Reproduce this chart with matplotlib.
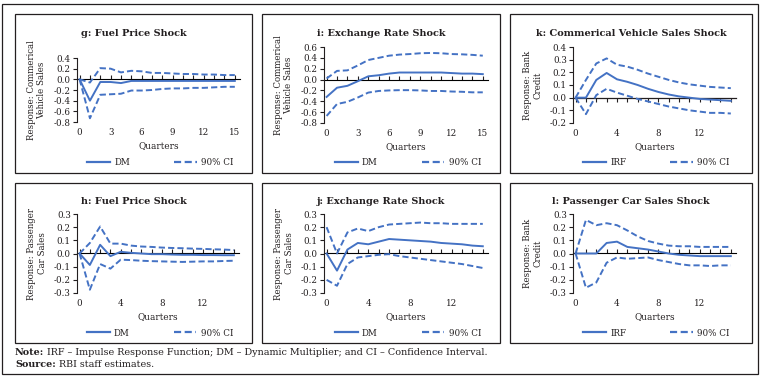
import matplotlib
matplotlib.use("Agg")
import matplotlib.pyplot as plt
from matplotlib.lines import Line2D
from matplotlib.patches import Rectangle

plt.rcParams["font.family"] = ["DejaVu Serif"]
plt.rcParams["axes.unicode_minus"] = False

W, H = 763, 379
BLUE = "#4472C4"
INK = "#231F20"

quarters = list(range(16))

# g: fuel price shock -> commercial vehicle sales
g_mid = [0, -0.40, -0.05, -0.05, -0.07, -0.03, -0.03, -0.03, -0.03, -0.03, -0.03, -0.03, -0.03, -0.03, -0.03, -0.03]
g_up = [0, -0.06, 0.21, 0.20, 0.13, 0.16, 0.15, 0.12, 0.12, 0.11, 0.10, 0.10, 0.09, 0.09, 0.08, 0.08]
g_lo = [0, -0.73, -0.29, -0.28, -0.27, -0.21, -0.21, -0.20, -0.18, -0.17, -0.17, -0.16, -0.16, -0.15, -0.14, -0.14]

# i: exchange rate shock -> commercial vehicle sales
i_mid = [-0.32, -0.15, -0.115, -0.03, 0.06, 0.08, 0.11, 0.13, 0.13, 0.13, 0.13, 0.13, 0.12, 0.11, 0.11, 0.10]
i_up = [0.02, 0.16, 0.17, 0.26, 0.36, 0.40, 0.44, 0.46, 0.47, 0.485, 0.49, 0.485, 0.47, 0.465, 0.455, 0.44]
i_lo = [-0.67, -0.45, -0.41, -0.33, -0.24, -0.21, -0.20, -0.195, -0.195, -0.20, -0.21, -0.21, -0.22, -0.225, -0.235, -0.235]

# k: commercial vehicle sales shock -> bank credit
k_mid = [0, 0.0, 0.14, 0.195, 0.145, 0.125, 0.10, 0.07, 0.045, 0.025, 0.01, 0.0, -0.01, -0.015, -0.02, -0.025]
k_up = [0, 0.14, 0.27, 0.31, 0.26, 0.245, 0.22, 0.19, 0.165, 0.14, 0.12, 0.105, 0.095, 0.085, 0.08, 0.075]
k_lo = [0, -0.13, 0.02, 0.07, 0.04, 0.015, -0.01, -0.03, -0.05, -0.07, -0.085, -0.10, -0.11, -0.12, -0.12, -0.125]

# h: fuel price shock -> passenger car sales
h_mid = [0, -0.087, 0.066, -0.02, 0.013, 0.005, 0.0, -0.005, -0.005, -0.008, -0.01, -0.01, -0.012, -0.012, -0.013, -0.013]
h_up = [0, 0.08, 0.205, 0.075, 0.075, 0.06, 0.053, 0.05, 0.045, 0.042, 0.04, 0.037, 0.035, 0.032, 0.03, 0.026]
h_lo = [0, -0.275, -0.08, -0.115, -0.047, -0.05, -0.055, -0.058, -0.06, -0.062, -0.064, -0.062, -0.06, -0.06, -0.057, -0.055]

# j: exchange rate shock -> passenger car sales
j_mid = [0, -0.13, 0.03, 0.08, 0.07, 0.09, 0.11, 0.105, 0.10, 0.095, 0.09, 0.08, 0.075, 0.07, 0.06, 0.055]
j_up = [0.20, 0.0, 0.16, 0.19, 0.17, 0.20, 0.22, 0.225, 0.23, 0.235, 0.23, 0.23, 0.225, 0.225, 0.225, 0.225]
j_lo = [-0.20, -0.245, -0.08, -0.03, -0.02, -0.01, -0.005, -0.02, -0.03, -0.04, -0.05, -0.06, -0.07, -0.08, -0.095, -0.11]

# l: passenger car sales shock -> bank credit
l_mid = [0, 0.0, 0.0, 0.08, 0.09, 0.05, 0.04, 0.03, 0.015, 0.0, -0.01, -0.015, -0.02, -0.02, -0.02, -0.02]
l_up = [0, 0.255, 0.215, 0.23, 0.215, 0.175, 0.13, 0.095, 0.075, 0.06, 0.055, 0.055, 0.05, 0.05, 0.05, 0.05]
l_lo = [0, -0.26, -0.22, -0.07, -0.03, -0.04, -0.035, -0.03, -0.05, -0.065, -0.08, -0.09, -0.09, -0.095, -0.09, -0.09]

panels = [
    # title, ylabel, mid, up, lo, label, ylim, ystep, xstep, panel box, axes box
    ("g: Fuel Price Shock", "Response: Commerical\nVehicle Sales", g_mid, g_up, g_lo, "DM",
     (-0.8, 0.4), 0.2, 3, (15, 14, 252, 173), (77, 58, 240, 122)),
    ("i: Exchange Rate Shock", "Response: Commerical\nVehicle Sales", i_mid, i_up, i_lo, "DM",
     (-0.8, 0.6), 0.2, 3, (262, 14, 500, 173), (324, 47, 488, 123)),
    ("k: Commerical Vehicle Sales Shock", "Response: Bank\nCredit", k_mid, k_up, k_lo, "IRF",
     (-0.2, 0.4), 0.1, 4, (510, 14, 752, 173), (573, 47, 736, 123)),
    ("h: Fuel Price Shock", "Response: Passenger\nCar Sales", h_mid, h_up, h_lo, "DM",
     (-0.3, 0.3), 0.1, 4, (15, 183, 252, 343), (77, 214, 239, 293)),
    ("j: Exchange Rate Shock", "Response: Passenger\nCar Sales", j_mid, j_up, j_lo, "DM",
     (-0.3, 0.3), 0.1, 4, (262, 183, 500, 343), (324, 214, 488, 293)),
    ("l: Passenger Car Sales Shock", "Response: Bank\nCredit", l_mid, l_up, l_lo, "IRF",
     (-0.3, 0.3), 0.1, 4, (510, 183, 752, 343), (573, 214, 736, 293)),
]


def fx(x):
    return x / W


def fy(y):
    return 1 - y / H


fig = plt.figure(figsize=(W / 100, H / 100), dpi=100)

# outer frame
fig.add_artist(Rectangle((fx(2), fy(374)), fx(756), 370 / H, transform=fig.transFigure,
                         fill=False, ec=INK, lw=0.9))

dash = (0, (3.2, 1.6))
for title, ylab, mid, up, lo, lab, ylim, ystep, xstep, box, abox in panels:
    bx0, by0, bx1, by1 = box
    fig.add_artist(Rectangle((fx(bx0), fy(by1)), fx(bx1 - bx0), (by1 - by0) / H,
                             transform=fig.transFigure, fill=False, ec=INK, lw=0.9))
    ax0, ay0, ax1, ay1 = abox
    ax = fig.add_axes([fx(ax0), fy(ay1), fx(ax1 - ax0), (ay1 - ay0) / H])
    ax.plot(quarters, mid, color=BLUE, lw=1.4)
    ax.plot(quarters, up, color=BLUE, lw=1.4, linestyle=dash)
    ax.plot(quarters, lo, color=BLUE, lw=1.4, linestyle=dash)
    ax.set_xlim(-0.25, 15.5)
    ax.set_ylim(*ylim)
    n = int(round((ylim[1] - ylim[0]) / ystep))
    yt = [round(ylim[0] + i * ystep, 2) for i in range(n + 1)]
    ax.set_yticks(yt)
    ax.set_yticklabels([f"{v:.1f}" for v in yt])
    ax.set_xticks(quarters[::xstep])
    ax.tick_params(axis="x", length=0, pad=4, labelsize=6.3, colors=INK)
    ax.tick_params(axis="y", length=3, width=0.8, pad=1.5, labelsize=6.3, colors=INK)
    for s in ["top", "right", "bottom"]:
        ax.spines[s].set_visible(False)
    ax.spines["left"].set_color(INK)
    ax.patch.set_alpha(0)
    # zero axis with ticks
    zf = (0 - ylim[0]) / (ylim[1] - ylim[0])
    sec = ax.secondary_xaxis(zf)
    sec.set_xticks(quarters)
    sec.set_xticklabels([])
    sec.tick_params(length=3, width=0.8, direction="out", colors=INK)
    sec.spines["bottom"].set_color(INK)
    sec.spines["bottom"].set_linewidth(0.9)

    cx = (bx0 + bx1) / 2
    fig.text(fx(cx), fy(by0 + 19), title, ha="center", va="center",
             fontsize=7.0, fontweight="bold", color=INK)
    acx = (ax0 + ax1) / 2
    fig.text(fx(acx), fy(ay1 + 24), "Quarters", ha="center", va="center",
             fontsize=6.4, color=INK)
    fig.text(fx(ax0 - 40), fy((ay0 + ay1) / 2), ylab, ha="center", va="center",
             rotation=90, fontsize=6.2, color=INK, linespacing=1.15, multialignment="center")
    handles = [Line2D([], [], color=BLUE, lw=1.6),
               Line2D([], [], color=BLUE, lw=1.6, linestyle=dash)]
    fig.legend(handles, [lab, "90% CI"], loc="center", bbox_to_anchor=(fx(acx + 2), fy(by1 - 10)),
               ncol=2, frameon=False, fontsize=6.3, handlelength=2.6, handletextpad=0.5,
               columnspacing=5.0, labelcolor=INK)

t1 = fig.text(fx(15), fy(355), "Note:", fontsize=6.9, fontweight="bold", color=INK, va="baseline")
t2 = fig.text(fx(15), fy(367), "Source:", fontsize=6.9, fontweight="bold", color=INK, va="baseline")

fig.canvas.draw()
r = fig.canvas.get_renderer()
w1 = t1.get_window_extent(r).width
w2 = t2.get_window_extent(r).width
fig.text(fx(15 + w1), fy(355),
         " IRF \u2013 Impulse Response Function; DM \u2013 Dynamic Multiplier; and CI \u2013 Confidence Interval.",
         fontsize=6.9, color=INK, va="baseline")
fig.text(fx(15 + w2), fy(367), " RBI staff estimates.", fontsize=6.9, color=INK, va="baseline")

fig.savefig("out.png", dpi=100)
